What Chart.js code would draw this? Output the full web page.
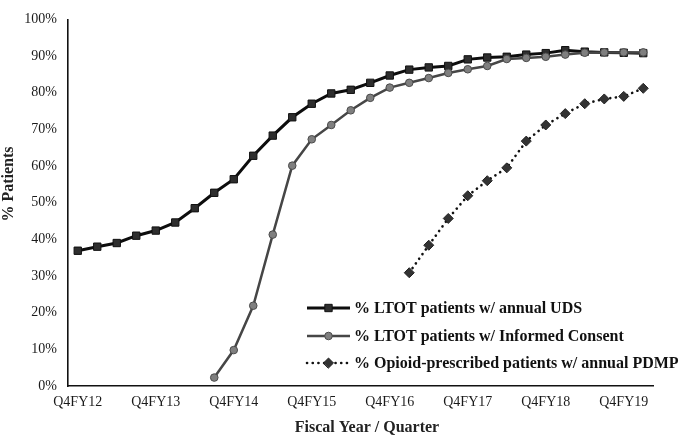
<!DOCTYPE html>
<html>
<head>
<meta charset="utf-8">
<script src="https://cdn.jsdelivr.net/npm/chart.js@4.4.1/dist/chart.umd.min.js"></script>
<style>
  html, body { margin: 0; padding: 0; background: #fff; }
  #wrap { width: 680px; height: 439px; position: relative; }
</style>
</head>
<body>
<div id="wrap"><canvas id="c"></canvas></div>
<script>
const quarters = ['Q4FY12','Q1FY13','Q2FY13','Q3FY13','Q4FY13','Q1FY14','Q2FY14','Q3FY14','Q4FY14','Q1FY15',
  'Q2FY15','Q3FY15','Q4FY15','Q1FY16','Q2FY16','Q3FY16','Q4FY16','Q1FY17','Q2FY17','Q3FY17',
  'Q4FY17','Q1FY18','Q2FY18','Q3FY18','Q4FY18','Q1FY19','Q2FY19','Q3FY19','Q4FY19','Q1FY20'];
const shownTicks = ['Q4FY12','Q4FY13','Q4FY14','Q4FY15','Q4FY16','Q4FY17','Q4FY18','Q4FY19'];
const udsValues = [36.9,38.0,39.0,41.0,42.4,44.6,48.5,52.7,56.4,62.8,
  68.3,73.3,77.0,79.8,80.8,82.7,84.7,86.3,86.9,87.3,
  89.1,89.6,89.8,90.4,90.8,91.6,91.2,91.0,90.9,90.8];
const consentValues = [null,null,null,null,null,null,null,2.3,9.8,21.9,
  41.3,60.1,67.3,71.2,75.2,78.6,81.4,82.7,84.0,85.4,
  86.4,87.3,89.2,89.5,89.8,90.4,90.9,91.0,91.0,91.0];
const pdmpValues = [null,null,null,null,null,null,null,null,null,null,
  null,null,null,null,null,null,null,30.9,38.4,45.7,
  51.9,56.0,59.5,66.8,71.2,74.3,77.0,78.3,79.0,81.2];
const seriesNames = ['% LTOT patients w/ annual UDS','% LTOT patients w/ Informed Consent','% Opioid-prescribed patients w/ annual PDMP'];
const yTicks = [0,10,20,30,40,50,60,70,80,90,100];
const xTitle = 'Fiscal Year / Quarter';
const yTitle = '% Patients';

const FONT = "'Liberation Serif', 'Times New Roman', serif";

const legendPlugin = {
  id: 'customLegend',
  afterDraw(chart) {
    const ctx = chart.ctx;
    const x0 = 307, x1 = 350, tx = 354;
    const ys = [308, 336, 363];
    chart.data.datasets.forEach((ds, i) => {
      const y = ys[i];
      ctx.save();
      ctx.strokeStyle = ds.borderColor;
      ctx.lineWidth = ds.borderWidth;
      ctx.lineCap = ds.borderCapStyle || 'butt';
      ctx.setLineDash(ds.borderDash || []);
      ctx.beginPath();
      ctx.moveTo(x0, y);
      ctx.lineTo(x1, y);
      ctx.stroke();
      ctx.setLineDash([]);
      ctx.fillStyle = ds.pointBackgroundColor;
      ctx.strokeStyle = ds.pointBorderColor;
      ctx.lineWidth = ds.pointBorderWidth;
      Chart.helpers.drawPoint(ctx, {pointStyle: ds.pointStyle, radius: ds.pointRadius, rotation: 0, borderWidth: ds.pointBorderWidth}, (x0 + x1) / 2, y);
      ctx.fillStyle = '#111';
      ctx.font = 'bold 16px ' + FONT;
      ctx.textBaseline = 'middle';
      ctx.textAlign = 'left';
      ctx.fillText(ds.label, tx, y + 1);
      ctx.restore();
    });
    // axis titles
    ctx.save();
    ctx.fillStyle = '#222';
    ctx.font = 'bold 16px ' + FONT;
    ctx.textAlign = 'center';
    ctx.textBaseline = 'middle';
    ctx.fillText(xTitle, 367, 428);
    ctx.translate(9, 184);
    ctx.rotate(-Math.PI / 2);
    ctx.fillText(yTitle, 0, 0);
    ctx.restore();
  }
};

new Chart(document.getElementById('c'), {
  type: 'line',
  data: {
    labels: quarters,
    datasets: [
      {
        label: seriesNames[0], data: udsValues, order: 2,
        borderColor: '#0d0d0d', borderWidth: 3, tension: 0,
        pointStyle: 'rect', pointRadius: 5.2, pointBorderWidth: 1,
        pointBackgroundColor: '#2e2e2e', pointBorderColor: '#111',
        spanGaps: false
      },
      {
        label: seriesNames[1], data: consentValues, order: 1,
        borderColor: '#464646', borderWidth: 2.5, tension: 0,
        pointStyle: 'circle', pointRadius: 3.8, pointBorderWidth: 1,
        pointBackgroundColor: '#7f7f7f', pointBorderColor: '#4a4a4a'
      },
      {
        label: seriesNames[2], data: pdmpValues, order: 0,
        borderColor: '#111', borderWidth: 2.6, tension: 0,
        borderDash: [0.1, 5.6], borderCapStyle: 'round',
        pointStyle: 'rectRot', pointRadius: 5, pointBorderWidth: 1,
        pointBackgroundColor: '#333', pointBorderColor: '#222'
      }
    ]
  },
  options: {
    responsive: true,
    maintainAspectRatio: false,
    animation: false,
    devicePixelRatio: 1,
    layout: { padding: { left: 0, right: 27, top: 0, bottom: 2 } },
    plugins: { legend: { display: false }, tooltip: { enabled: false } },
    scales: {
      x: {
        type: 'category',
        offset: true,
        grid: { display: false, drawTicks: false },
        border: { display: true, color: '#111', width: 1.6 },
        ticks: {
          autoSkip: false, maxRotation: 0, padding: 8,
          color: '#1a1a1a', font: { family: FONT, size: 14 },
          callback: function(v, i) { const l = this.getLabelForValue(v); return shownTicks.includes(l) ? l : ''; }
        },
        title: { display: false },
        afterFit: (s) => { s.height = 51; }
      },
      y: {
        min: 0, max: 100,
        afterBuildTicks: (s) => { s.ticks = yTicks.map(v => ({ value: v })); },
        grid: { display: false, drawTicks: false },
        border: { display: true, color: '#111', width: 1.6 },
        ticks: {
          padding: 11, color: '#1a1a1a', font: { family: FONT, size: 14 },
          callback: (v) => v + '%'
        },
        title: { display: false },
        afterFit: (s) => { s.width = 68; }
      }
    }
  },
  plugins: [legendPlugin]
});
</script>
</body>
</html>
